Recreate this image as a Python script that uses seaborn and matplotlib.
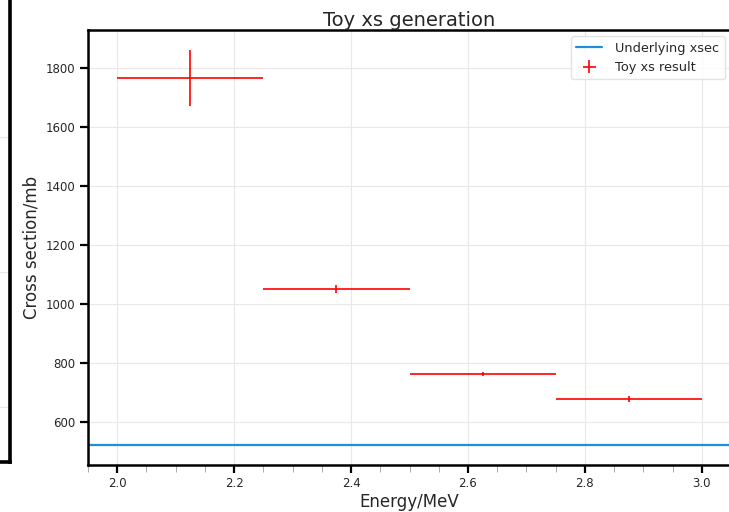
import matplotlib
matplotlib.use("Agg")
import matplotlib.pyplot as plt
from matplotlib.ticker import MultipleLocator
import seaborn as sns
import numpy as np

# ---- data ----
bin_centers = [2.125, 2.375, 2.625, 2.875]
bin_half_widths = [0.125, 0.125, 0.125, 0.125]
toy_xs = [1765, 1051, 763, 680]
toy_xs_err = [96, 15, 8, 10]
underlying_xsec = 522

title = "Toy xs generation"
xlabel = "Energy/MeV"
ylabel = "Cross section/mb"
label_underlying = "Underlying xsec"
label_toy = "Toy xs result"

sns.set_theme(style="whitegrid")
plt.rcParams["font.family"] = ["DejaVu Sans"]
plt.rcParams["grid.color"] = "#e8e8e8"
plt.rcParams["grid.linewidth"] = 0.8
plt.rcParams["axes.edgecolor"] = "black"

W, H = 729, 512
fig = plt.figure(figsize=(W / 100, H / 100), dpi=100)
fig.patch.set_facecolor("white")

# partially visible neighbouring panel on the left
axl = fig.add_axes([-0.6, 1 - 462 / H, 0.6 + 9.5 / W, 1.2])
axl.set_xlim(0, 1)
axl.set_ylim(-0.407, 4.14)
axl.set_yticks([0, 1, 2])
axl.set_xticks([1])
axl.tick_params(axis="x", length=9, width=0.8, color="#aaaaaa", labelbottom=False)
axl.tick_params(axis="y", length=0, labelleft=False)
axl.grid(True, axis="y")
axl.grid(False, axis="x")
for s in axl.spines.values():
    s.set_linewidth(2.6)
    s.set_color("black")

# main panel
ax = fig.add_axes([88 / W, 1 - 465 / H, (731 - 88) / W, (465 - 30) / H])
ax.axhline(underlying_xsec, color="#1f8fd9", lw=1.6, label=label_underlying)
ax.errorbar(bin_centers, toy_xs, xerr=bin_half_widths, yerr=toy_xs_err,
            fmt="none", ecolor="red", elinewidth=1.2, label=label_toy)

ax.xaxis.set_minor_locator(MultipleLocator(0.05))
ax.tick_params(axis="both", which="major", direction="out", length=5.8, width=1.6,
               color="black", labelsize=8.5, pad=3, bottom=True, left=True,
               labelcolor="#262626")
ax.tick_params(axis="x", which="minor", direction="out", length=5, width=0.7,
               color="#aaaaaa", bottom=True)
ax.grid(True, which="major")
for s in ax.spines.values():
    s.set_linewidth(1.8)
    s.set_color("black")

ax.set_title(title, fontsize=14, pad=3)
ax.set_xlabel(xlabel, fontsize=12, labelpad=2)
ax.set_ylabel(ylabel, fontsize=12, labelpad=4)

leg = ax.legend(loc="upper right", fontsize=9.3, frameon=True, handletextpad=1.0)
leg.get_frame().set_edgecolor("#dddddd")

fig.savefig("out.png", dpi=100, facecolor="white")
